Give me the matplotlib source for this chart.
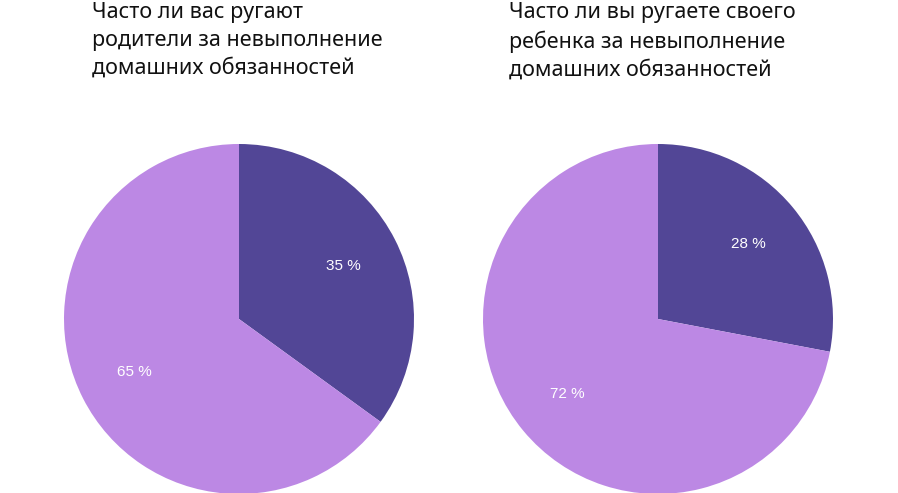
import numpy as np
import matplotlib
matplotlib.use("Agg")
import matplotlib.pyplot as plt

titles = ["Часто ли вас ругают\nродители за невыполнение\nдомашних обязанностей",
          "Часто ли вы ругаете своего\nребенка за невыполнение\nдомашних обязанностей"]
values = [[35, 65], [28, 72]]
labels = [["35 %", "65 %"], ["28 %", "72 %"]]
COLORS = ["#524696", "#bc88e4"]

W, H = 898, 493
fig = plt.figure(figsize=(W / 100, H / 100), dpi=100)

centers = [239, 658]
R = 175
title_x = [92, 509]

for i in range(2):
    cx = centers[i]
    ax = fig.add_axes([(cx - R) / W, (H - 319 - R) / H, 2 * R / W, 2 * R / H])
    ax.pie(values[i], colors=COLORS, startangle=90, counterclock=False,
           radius=1.0, wedgeprops=dict(linewidth=0))
    ax.set_xlim(-1, 1)
    ax.set_ylim(-1, 1)
    ax.set_aspect("equal")
    ax.axis("off")
    # percentage labels inside the wedges
    start = 90.0
    for v, lab in zip(values[i], labels[i]):
        mid = np.deg2rad(start - v * 3.6 / 2)
        ax.text(0.67 * np.cos(mid), 0.67 * np.sin(mid), lab, ha="center", va="center",
                color="white", fontsize=11, family="Liberation Sans")
        start -= v * 3.6
    fig.text(title_x[i] / W, 1 - 2 / H, titles[i], ha="left", va="top",
             fontsize=15.5, family="Noto Sans", fontweight="medium",
             linespacing=1.42, color="#111111")

fig.savefig("out.png", dpi=100)
